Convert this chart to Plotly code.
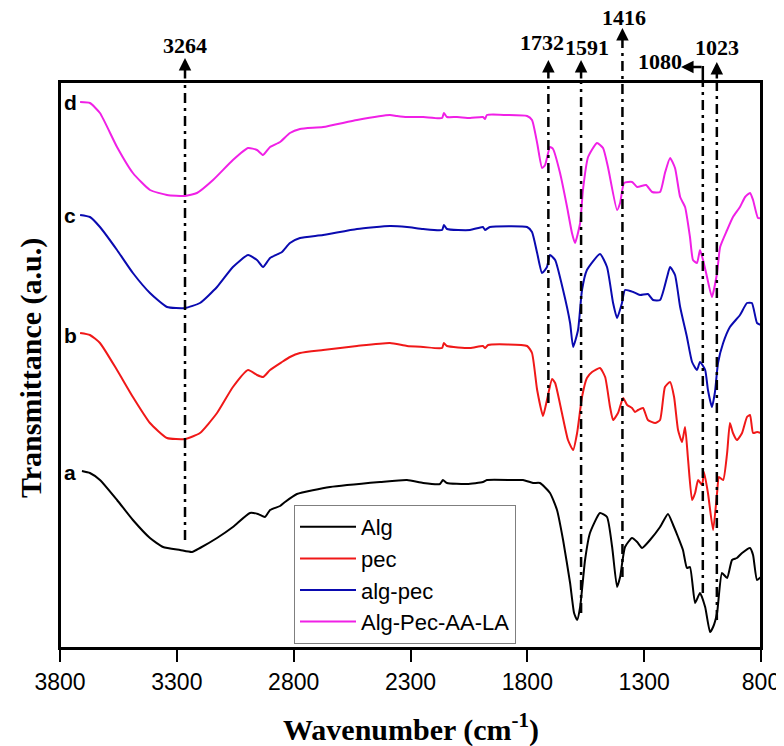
import plotly.graph_objects as go

# ---------------- data ----------------
wn_a = [3706, 3672, 3629, 3556, 3488, 3415, 3359, 3286, 3235, 3201, 3128, 3060, 2987, 2953, 2923,
        2901, 2858, 2837, 2786, 2644, 2430, 2315, 2246, 2174, 2161, 2144, 2058, 1990, 1973, 1861,
        1818, 1776, 1746, 1703, 1673, 1647, 1617, 1600, 1587, 1574, 1553, 1532, 1489, 1459, 1437,
        1416, 1403, 1382, 1352, 1330, 1309, 1275, 1232, 1198, 1176, 1155, 1134, 1117, 1104, 1082,
        1061, 1039, 1018, 1005, 988, 967, 945, 924, 903, 881, 847, 834, 817, 800]
t_a = [177, 175, 168, 148, 128, 110, 101, 98, 96, 100, 110, 121, 135, 134, 131,
       138, 142, 146, 154, 161, 166, 168, 165, 164, 168, 165, 164, 166, 168, 168,
       168, 165, 165, 155, 138, 108, 65, 35, 28, 41, 88, 115, 135, 131, 101,
       61, 71, 101, 110, 106, 100, 108, 121, 134, 123, 111, 98, 80, 81, 45,
       55, 41, 16, 21, 35, 75, 70, 88, 90, 95, 100, 93, 68, 71]

wn_b = [3714, 3672, 3629, 3556, 3488, 3415, 3342, 3265, 3201, 3128, 3060, 2995, 2957, 2931, 2901,
        2850, 2816, 2773, 2674, 2529, 2388, 2315, 2246, 2165, 2157, 2144, 2045, 1990, 1981, 1968,
        1801, 1780, 1758, 1733, 1716, 1694, 1681, 1652, 1626, 1604, 1587, 1566, 1545, 1523, 1489,
        1467, 1446, 1433, 1412, 1390, 1373, 1352, 1339, 1326, 1305, 1284, 1253, 1232, 1211, 1189,
        1172, 1155, 1138, 1125, 1112, 1095, 1082, 1069, 1052, 1044, 1027, 1005, 988, 980, 962,
        945, 933, 920, 903, 881, 860, 847, 834, 817, 800]
t_b = [315, 313, 305, 278, 251, 225, 210, 209, 215, 235, 261, 278, 273, 271, 278,
       286, 291, 295, 298, 302, 305, 302, 301, 300, 305, 302, 300, 302, 300, 303,
       302, 295, 258, 232, 248, 269, 265, 235, 208, 198, 215, 251, 270, 276, 280,
       271, 241, 228, 235, 250, 243, 240, 236, 238, 240, 228, 225, 228, 261, 266,
       251, 218, 206, 221, 188, 148, 155, 168, 163, 176, 155, 118, 155, 171, 168,
       195, 225, 215, 208, 215, 231, 233, 215, 216, 215]

wn_c = [3714, 3672, 3629, 3556, 3488, 3415, 3342, 3265, 3201, 3128, 3060, 2995, 2957, 2931, 2901,
        2850, 2816, 2773, 2674, 2529, 2388, 2315, 2246, 2165, 2157, 2144, 2045, 1990, 1981, 1960,
        1801, 1780, 1758, 1737, 1716, 1703, 1681, 1647, 1617, 1604, 1583, 1566, 1545, 1489, 1459,
        1433, 1416, 1395, 1382, 1347, 1318, 1284, 1262, 1232, 1202, 1189, 1168, 1146, 1117, 1095,
        1074, 1061, 1039, 1027, 1010, 997, 984, 962, 933, 890, 860, 839, 817, 800]
t_c = [433, 431, 421, 398, 375, 355, 341, 340, 345, 361, 381, 393, 388, 381, 390,
       396, 405, 410, 413, 419, 422, 421, 419, 418, 423, 419, 418, 421, 418, 421,
       421, 416, 395, 375, 381, 393, 388, 358, 325, 301, 318, 358, 378, 394, 381,
       345, 330, 345, 358, 356, 353, 354, 348, 348, 371, 381, 373, 341, 311, 286,
       278, 286, 278, 258, 241, 256, 285, 305, 321, 333, 345, 345, 325, 323]

wn_d = [3714, 3672, 3629, 3556, 3488, 3415, 3342, 3265, 3214, 3145, 3060, 2995, 2957, 2931, 2901,
        2858, 2816, 2773, 2674, 2529, 2388, 2358, 2315, 2246, 2165, 2157, 2144, 2101, 2045, 1990,
        1981, 1973, 1887, 1801, 1780, 1758, 1737, 1724, 1703, 1690, 1660, 1630, 1609, 1596, 1574,
        1562, 1540, 1502, 1476, 1455, 1416, 1403, 1386, 1352, 1330, 1292, 1266, 1232, 1211, 1189,
        1168, 1146, 1125, 1104, 1091, 1074, 1061, 1048, 1031, 1010, 988, 975, 945, 920, 890,
        868, 847, 834, 813, 800]
t_d = [546, 545, 535, 501, 475, 458, 453, 452, 455, 468, 488, 500, 498, 493, 501,
       506, 515, 519, 521, 528, 533, 532, 531, 531, 530, 535, 531, 531, 530, 531,
       529, 533, 533, 532, 528, 505, 480, 483, 501, 499, 475, 441, 415, 405, 425,
       458, 491, 505, 500, 481, 438, 445, 465, 466, 461, 463, 456, 456, 475, 490,
       480, 451, 441, 411, 388, 385, 398, 388, 371, 351, 375, 401, 418, 431, 441,
       451, 455, 448, 430, 430]

series_names = ["Alg", "pec", "alg-pec", "Alg-Pec-AA-LA"]
curve_letters = ["a", "b", "c", "d"]
letter_level = [176, 313, 433, 546]

tick_vals = [3800, 3300, 2800, 2300, 1800, 1300, 800]

# peak markers: label text, drawn line position, lower end of line (transmittance units)
peak_labels = ["3264", "1732", "1591", "1416", "1080", "1023"]
peak_line_pos = [3265, 1710, 1570, 1393, 1049, 989]
peak_line_end = [108, 245, 35, 71, 55, 28]

Y_MAX = 566

# ---------------- figure ----------------
colors = ["#000000", "#f01818", "#0a0ab0", "#f020e6"]
fig = go.Figure()
for name, xs, ys, col in zip(series_names, [wn_a, wn_b, wn_c, wn_d], [t_a, t_b, t_c, t_d], colors):
    fig.add_trace(go.Scatter(x=xs, y=ys, mode="lines", name=name,
                             line=dict(color=col, width=2, shape="spline", smoothing=0.5)))

SERIF = "Liberation Serif, Times New Roman, serif"
SANS = "Liberation Sans, Arial, sans-serif"

def py2paper(py):
    # pixel row in the 746-high picture -> paper fraction (plot area rows 82..648)
    return (648 - py) / 566.0

shapes = [dict(type="rect", xref="paper", yref="paper", x0=0, x1=1, y0=0, y1=1,
               line=dict(color="black", width=2), layer="above")]
annotations = []
dash = "10px,5px,3px,5px"
for lab, pos, end in zip(peak_labels, peak_line_pos, peak_line_end):
    top = py2paper(37) if lab == "1416" else 1.0
    shapes.append(dict(type="line", xref="x", yref="paper", x0=pos, x1=pos,
                       y0=end / Y_MAX, y1=top, line=dict(color="black", width=2.5, dash=dash)))

# arrows above the frame
arrow_specs = {"3264": (58, 80), "1732": (60, 80), "1591": (60, 80), "1023": (62, 80), "1416": (28, 39)}
for lab, pos in zip(peak_labels, peak_line_pos):
    if lab in arrow_specs:
        tip, tail = arrow_specs[lab]
        annotations.append(dict(x=pos, xref="x", y=py2paper(tip), yref="paper", text="",
                                showarrow=True, ax=0, ay=tail - tip, axref="pixel", ayref="pixel",
                                arrowhead=2, arrowsize=1, arrowwidth=2.5, arrowcolor="black"))
# bent arrow for 1080
pos1080 = peak_line_pos[peak_labels.index("1080")]
shapes.append(dict(type="line", xref="x", yref="paper", x0=pos1080, x1=pos1080,
                   y0=py2paper(80), y1=py2paper(66), line=dict(color="black", width=2.5)))
annotations.append(dict(x=1142, xref="x", y=py2paper(67), yref="paper", text="",
                        showarrow=True, ax=22, ay=0, axref="pixel", ayref="pixel",
                        arrowhead=2, arrowsize=1, arrowwidth=2.5, arrowcolor="black"))

# peak label texts
label_pos = {"3264": (3265, 46), "1732": (1737, 43), "1591": (1544, 47),
             "1416": (1386, 17), "1080": (1232, 62), "1023": (988, 47)}
for lab in peak_labels:
    x, py = label_pos[lab]
    annotations.append(dict(x=x, xref="x", y=py2paper(py), yref="paper", text="<b>%s</b>" % lab,
                            showarrow=False, xanchor="center", yanchor="middle",
                            font=dict(family=SERIF, size=22, color="black")))

# curve letters
for let, lvl in zip(curve_letters, letter_level):
    annotations.append(dict(x=3757, xref="x", y=lvl, yref="y", text="<b>%s</b>" % let,
                            showarrow=False, xanchor="center", yanchor="middle",
                            font=dict(family=SANS, size=21, color="black")))

# axis titles
annotations.append(dict(x=0.5, xref="paper", y=py2paper(727), yref="paper",
                        text="<b>Wavenumber (cm<sup>-1</sup>)</b>", showarrow=False,
                        xanchor="center", yanchor="middle",
                        font=dict(family=SERIF, size=30, color="black")))
annotations.append(dict(x=(31 - 60) / 701.0, xref="paper", y=py2paper(368), yref="paper",
                        text="<b>Transmittance (a.u.)</b>", showarrow=False, textangle=-90,
                        xanchor="center", yanchor="middle",
                        font=dict(family=SERIF, size=30, color="black")))

# the page body adds an 8px offset, so margins are reduced by 8px on top/left
fig.update_layout(
    width=784, height=746,
    margin=dict(l=52, r=31, t=74, b=106),
    plot_bgcolor="white", paper_bgcolor="white",
    xaxis=dict(range=[3800, 800], tickvals=tick_vals, ticktext=[str(v) for v in tick_vals],
               ticks="outside", ticklen=12, tickwidth=2, tickcolor="black",
               showline=True, linewidth=2, linecolor="black", mirror=True,
               showgrid=False, zeroline=False,
               tickfont=dict(family=SANS, size=23, color="black")),
    yaxis=dict(range=[0, Y_MAX], showticklabels=False, ticks="",
               showline=True, linewidth=2, linecolor="black", mirror=True,
               showgrid=False, zeroline=False),
    legend=dict(x=(294 - 60) / 701.0, y=py2paper(505), xanchor="left", yanchor="top",
                bordercolor="#7f7f7f", borderwidth=1, bgcolor="white",
                font=dict(family=SANS, size=22, color="black"),
                itemwidth=56, tracegroupgap=0),
    showlegend=True,
    shapes=shapes,
    annotations=annotations,
)

fig.write_html("out.html")
